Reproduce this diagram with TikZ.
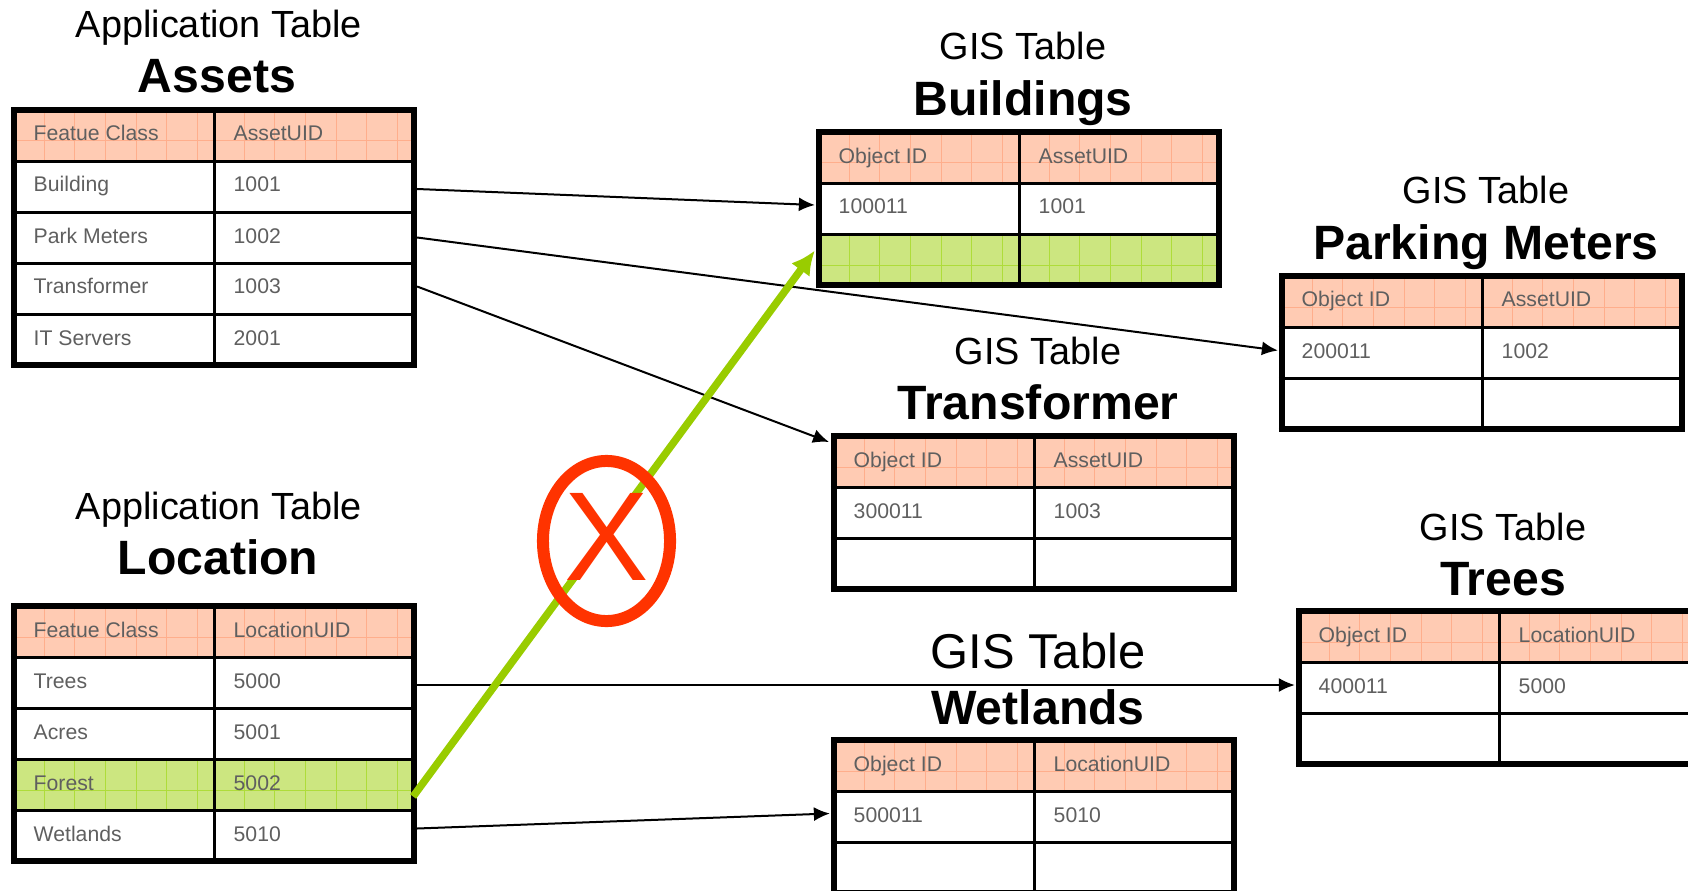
\documentclass[tikz,border=0pt]{standalone}
\usepackage{fontspec}
\setmainfont{Liberation Sans}
\usetikzlibrary{arrows.meta,calc,shapes.geometric}
\definecolor{headfill}{HTML}{FFCBB3}
\definecolor{headgrid}{HTML}{FFAE8C}
\definecolor{pickfill}{HTML}{CCE680}
\definecolor{pickgrid}{HTML}{AEDC3A}
\definecolor{celltext}{HTML}{5F5F5F}
\definecolor{pickline}{HTML}{99CC00}
\definecolor{crossred}{HTML}{FF3300}
\tikzset{>={Latex[length=0.16cm,width=0.14cm]}}
\tikzset{
  tableframe/.style={draw=black,line width=0.06cm,minimum width=4cm,inner sep=0pt,anchor=north west},
  rowband/.style={minimum width=4.06cm,minimum height=0.51cm,inner sep=0pt,outer sep=0pt},
  cellfirst/.style={anchor=base west,inner sep=0pt,text=celltext,font=\fontsize{6.03}{7}\selectfont},
  tablename/.style={anchor=base,inner sep=0pt,font=\fontsize{13.7}{16}\selectfont\bfseries},
  tablekind/.style={anchor=base,inner sep=0pt,font=\fontsize{10.76}{13}\selectfont},
  link/.style={->,black,line width=0.02cm},
  badlink/.style={-{Latex[length=0.24cm,width=0.23cm]},pickline,line width=0.075cm},
}
% one shaded row: left, top, fill, grid lines
\newcommand{\shadedrow}[4]{
  \fill[#3] (#1,#2) rectangle (#1+400,#2+51);
  \foreach \k in {0,...,5} {
    \draw[#4,line width=0.01cm] (#1+30+\k*30.7,#2) -- (#1+30+\k*30.7,#2+51);
    \draw[#4,line width=0.01cm] (#1+230+\k*30.7,#2) -- (#1+230+\k*30.7,#2+51);
  }
  \draw[#4,line width=0.01cm] (#1,#2+31) -- (#1+400,#2+31);
}
% name, left, top, number of rows, picked row (0 if none), cells
\newcommand{\gistable}[6]{
  \shadedrow{#2}{#3}{headfill}{headgrid}
  \ifnum#5>0
    \shadedrow{#2}{#3+#5*51}{pickfill}{pickgrid}
  \fi
  \foreach \first/\second [count=\i from 0] in {#6} {
    \node[rowband] (#1-\i) at (#2+200,#3+25.5+\i*51) {};
    \node[cellfirst] (#1-\i-a) at (#2+19,#3+31+\i*51) {\first};
    \node[cellfirst] (#1-\i-b) at (#2+219,#3+31+\i*51) {\second};
    \draw[line width=0.03cm] (#1-\i.south west) -- (#1-\i.south east);
  }
  \node[tableframe,minimum height={(#4+1)*0.51cm}] (#1) at (#2-3,#3-3) {};
  \draw[line width=0.03cm] (#2+200,#3) -- (#2+200,{#3+(#4+1)*51});
}

\begin{document}
\begin{tikzpicture}[x=0.01cm,y=-0.01cm]
  \useasboundingbox (0,0) rectangle (1688,891);
  \clip (0,0) rectangle (1688,891);

  % Tables
  \gistable{assets}{14}{110}{4}{0}{Featue Class/AssetUID,Building/1001,Park Meters/1002,Transformer/1003,IT Servers/2001}
  \gistable{location}{14}{606}{4}{3}{Featue Class/LocationUID,Trees/5000,Acres/5001,Forest/5002,Wetlands/5010}
  \gistable{buildings}{819}{132}{2}{2}{Object ID/AssetUID,100011/1001,/}
  \gistable{parking}{1282}{276}{2}{0}{Object ID/AssetUID,200011/1002,/}
  \gistable{transformer}{834}{436}{2}{0}{Object ID/AssetUID,300011/1003,/}
  \gistable{trees}{1299}{611}{2}{0}{Object ID/LocationUID,400011/5000,/}
  \gistable{wetlands}{834}{740}{2}{0}{Object ID/LocationUID,500011/5010,/}

  % Labels
  \node[tablekind] (assets-kind) at (219,38) {Application Table};
  \node[tablename] (assets-name) at (217,93) {Assets};
  \node[tablekind] (location-kind) at (219,519) {Application Table};
  \node[tablename] (location-name) at (218,574) {Location};
  \node[tablekind] (buildings-kind) at (1023,60) {GIS Table};
  \node[tablename] (buildings-name) at (1023,116) {Buildings};
  \node[tablekind] (parking-kind) at (1486,204) {GIS Table};
  \node[tablename] (parking-name) at (1486,259) {Parking Meters};
  \node[tablekind] (transformer-kind) at (1038,364) {GIS Table};
  \node[tablename] (transformer-name) at (1038,419) {Transformer};
  \node[tablekind] (trees-kind) at (1503,540) {GIS Table};
  \node[tablename] (trees-name) at (1503,595) {Trees};
  \node[tablename,font=\fontsize{13.9}{16}\selectfont] (wetlands-kind) at (1038,668) {GIS Table};
  \node[tablename] (wetlands-name) at (1038,724) {Wetlands};

  % Lines
  \draw[link] ($(assets-1.east)+(0,2.5)$) -- ($(buildings-1.west)+(-1,-3.5)$);
  \draw[link] (assets-2.east) -- ($(parking-1.west)+(-1,-2)$);
  \draw[link] ($(assets-3.east)+(0,-2)$) -- ($(transformer.north west)+(-2,9)$);
  \draw[link] ($(location-1.east)+(0,2.5)$) -- ($(trees-1.west)+(-1,-2.5)$);
  \draw[link] ($(location-4.east)+(0,-7)$) -- ($(wetlands-1.west)+(-1,-3)$);
  \draw[badlink] ($(location-3.east)+(-4,12)$) -- ($(buildings-2.west)+(-1,-9)$);

  % Cross over the picked link
  \node[draw=crossred,line width=0.12cm,ellipse,inner sep=0pt,minimum width=1.27cm,minimum height=1.6cm] (nomark) at (606.5,541) {};
  \node[fill=white,inner sep=0pt,text=crossred,font=\fontsize{36}{40}\selectfont] (nocross) at (606.7,536.7) {X};
\end{tikzpicture}
\end{document}
